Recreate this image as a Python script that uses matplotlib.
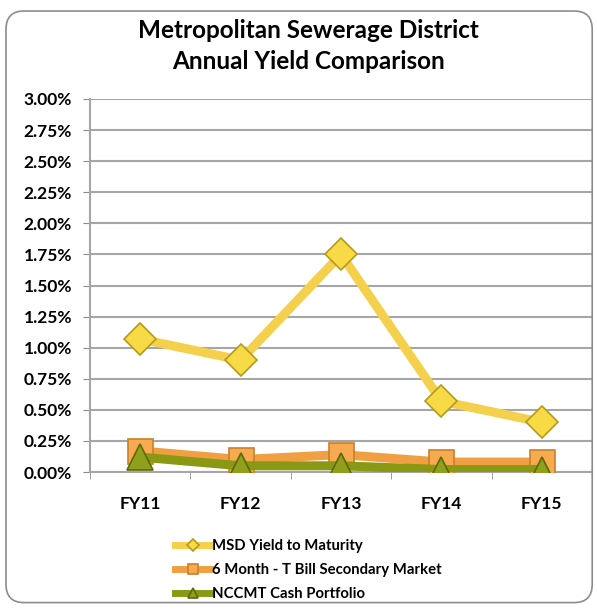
import matplotlib.pyplot as plt
from matplotlib.patches import FancyBboxPatch
import numpy as np

plt.rcParams['font.family'] = ['Lato', 'DejaVu Sans']

years = ['FY11', 'FY12', 'FY13', 'FY14', 'FY15']
msd   = [1.07, 0.90, 1.75, 0.57, 0.40]
tbill = [0.17, 0.10, 0.14, 0.08, 0.08]
nccmt = [0.12, 0.05, 0.05, 0.02, 0.02]
yticks = np.arange(0, 3.01, 0.25)

fig = plt.figure(figsize=(5.97, 6.13), dpi=100)
fig.patch.set_facecolor('white')
frame = FancyBboxPatch((0.01, 0.017), 0.982, 0.965, boxstyle='round,pad=0,rounding_size=0.03',
                       transform=fig.transFigure, facecolor='none', edgecolor='#8c8c8c',
                       lw=1.2, zorder=0)
fig.patches.append(frame)

ax = fig.add_axes([0.1508, 0.23, 0.8408, 0.6085])
ax.patch.set_alpha(0)
x = np.arange(len(years))

ax.plot(x, msd, color='#F5D04C', lw=6.5, marker='D', ms=16, mfc='#F7DA45',
        mec='#B59A1C', mew=1.2, label='MSD Yield to Maturity', zorder=3)
ax.plot(x, tbill, color='#F0A043', lw=6.5, marker='s', ms=18, mfc='#F7AA50',
        mec='#C7802C', mew=1.2, label='6 Month - T Bill Secondary Market', zorder=4)
ax.plot(x, nccmt, color='#8A9914', lw=6.5, marker='^', ms=19, mfc='#8FA01C',
        mec='#5C680A', mew=1.2, label='NCCMT Cash Portfolio', zorder=5)

ax.set_xlim(-0.5, len(years) - 0.5)
ax.set_ylim(0, 3.0)
ax.set_yticks(yticks)
ax.set_yticklabels([f'{v:.2f}%' for v in yticks], fontsize=12.5, fontweight='bold')
ax.set_xticks(x)
ax.set_xticklabels(years, fontsize=12.5, fontweight='bold')
ax.set_xticks(np.arange(-0.5, len(years)), minor=True)
ax.tick_params(axis='x', which='major', length=0, pad=17)
ax.tick_params(axis='x', which='minor', length=5, color='#8c8c8c', direction='out')
ax.tick_params(axis='y', length=5, color='#8c8c8c', pad=8)
ax.yaxis.grid(True, color='#a6a6a6', lw=1.5, zorder=1)
ax.set_axisbelow(True)
for s in ['top', 'right']:
    ax.spines[s].set_visible(False)
for s in ['left', 'bottom']:
    ax.spines[s].set_color('#a6a6a6')
    ax.spines[s].set_linewidth(1.5)

fig.text(0.517, 0.951, 'Metropolitan Sewerage District', ha='center', va='center',
         fontsize=17.5, fontweight='bold')
fig.text(0.517, 0.899, 'Annual Yield Comparison', ha='center', va='center',
         fontsize=17.5, fontweight='bold')

leg = ax.legend(loc='upper left', bbox_to_anchor=(0.157, -0.163), frameon=False,
                fontsize=10.7, markerscale=0.38, handlelength=2.4, handletextpad=0.1,
                labelspacing=0.68, borderaxespad=0)
for t in leg.get_texts():
    t.set_fontweight('bold')
for h in leg.get_lines():
    h.set_linewidth(5)

fig.savefig('out.png', dpi=100)
